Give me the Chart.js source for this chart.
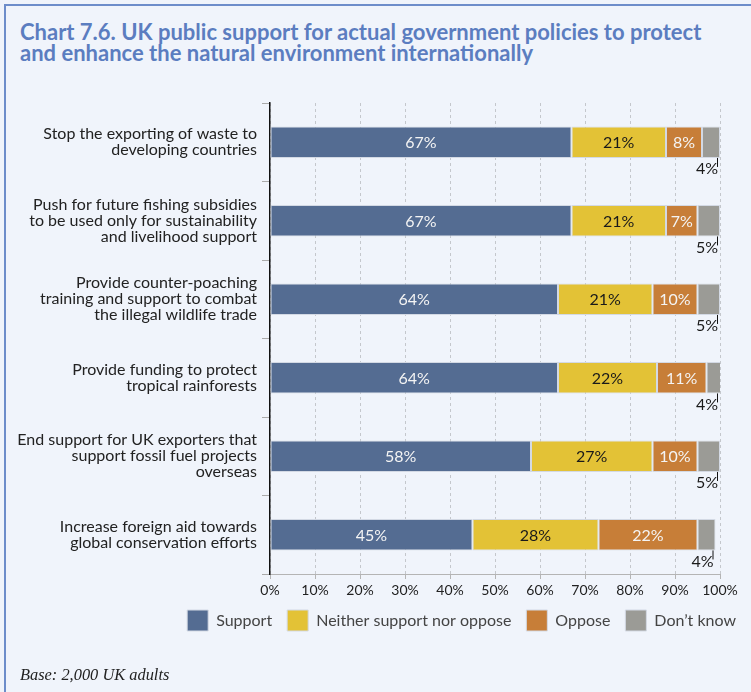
<!DOCTYPE html>
<html>
<head>
<meta charset="utf-8">
<script src="https://cdn.jsdelivr.net/npm/chart.js@4"></script>
<style>
  html, body { margin: 0; padding: 0; background: #f0f4fb; }
  #wrap { position: relative; width: 751px; height: 692px; overflow: hidden; }
  #frame { position: absolute; left: 4px; top: 4px; right: 0; bottom: 0; border-left: 2px solid #6d8dca; border-top: 2px solid #6d8dca; }
  #title { position: absolute; left: 20px; top: 21px; font: bold 22px Lato, sans-serif; line-height: 21px; color: #5b7dc0; }
  #base { position: absolute; left: 20px; top: 665px; font: italic 16.4px "Liberation Serif", serif; color: #222; }
  canvas { position: absolute; left: 0; top: 0; }
</style>
</head>
<body>
<div id="wrap">
  <div id="frame"></div>
  <div id="title">Chart 7.6. UK public support for actual government policies to protect<br>and enhance the natural environment internationally</div>
  <canvas id="myChart" width="751" height="692"></canvas>
  <div id="base">Base: 2,000 UK adults</div>
</div>
<script>
// policy labels, one array of lines per bar
const policies = [
    ['Stop the exporting of waste to', 'developing countries'],
    ['Push for future fishing subsidies', 'to be used only for sustainability', 'and livelihood support'],
    ['Provide counter-poaching', 'training and support to combat', 'the illegal wildlife trade'],
    ['Provide funding to protect', 'tropical rainforests'],
    ['End support for UK exporters that', 'support fossil fuel projects', 'overseas'],
    ['Increase foreign aid towards', 'global conservation efforts']
]
const support = [67, 67, 64, 64, 58, 45]
const neither = [21, 21, 21, 22, 27, 28]
const oppose = [8, 7, 10, 11, 10, 22]
const dontKnow = [4, 5, 5, 4, 5, 4]
const xTicks = [0, 10, 20, 30, 40, 50, 60, 70, 80, 90, 100]

const font = 'Lato'

// percentage labels: inside the first three segments, under the bar for "Don't know"
const barLabels = {
    id: 'barLabels',
    afterDatasetsDraw(chart) {
        const ctx = chart.ctx
        ctx.save()
        ctx.font = '16px ' + font
        chart.data.datasets.forEach((ds, i) => {
            const meta = chart.getDatasetMeta(i)
            meta.data.forEach((bar, j) => {
                const v = ds.data[j]
                if (i < 3) {
                    ctx.fillStyle = i == 1 ? '#1a1a1a' : '#f4f4f4'
                    ctx.textAlign = 'center'
                    ctx.textBaseline = 'middle'
                    const left = Math.min(bar.base, bar.x)
                    const right = Math.min(Math.max(bar.base, bar.x), chart.chartArea.right)
                    ctx.fillText(v + '%', (left + right) / 2, bar.y + 1)
                } else {
                    const bottom = bar.y + bar.height / 2
                    const x = Math.min(bar.x, chart.chartArea.right) - 3
                    ctx.strokeStyle = '#111'
                    ctx.lineWidth = 1
                    ctx.beginPath()
                    ctx.moveTo(x + 0.5, bottom)
                    ctx.lineTo(x + 0.5, bottom + 9)
                    ctx.stroke()
                    ctx.fillStyle = '#1a1a1a'
                    ctx.textAlign = 'right'
                    ctx.textBaseline = 'top'
                    ctx.fillText(v + '%', x + 1, bottom + 3)
                }
            })
        })
        ctx.restore()
    }
}

const data = {
    labels: policies,
    datasets: [
        { label: 'Support', data: support, backgroundColor: '#546c92' },
        { label: 'Neither support nor oppose', data: neither, backgroundColor: '#e3c236' },
        { label: 'Oppose', data: oppose, backgroundColor: '#c77e38' },
        { label: 'Don\u2019t know', data: dontKnow, backgroundColor: '#9b9b96' }
    ]
}
data.datasets.forEach(ds => {
    ds.borderColor = '#d3d9e4'
    ds.borderWidth = 1
    ds.borderSkipped = false
    ds.categoryPercentage = 0.4
    ds.barPercentage = 1
})

const options = {
    responsive: false,
    animation: false,
    indexAxis: 'y',
    layout: { padding: { top: 103, left: 0, right: 0, bottom: 51 } },
    plugins: {
        legend: {
            position: 'bottom',
            align: 'end',
            labels: {
                boxWidth: 21,
                boxHeight: 21,
                padding: 15,
                color: '#444',
                font: { family: font, size: 16 }
            }
        },
        tooltip: { enabled: false }
    },
    scales: {
        x: {
            stacked: true,
            min: 0,
            max: 100,
            afterBuildTicks: (scale) => { scale.ticks = xTicks.map(v => ({ value: v })) },
            afterFit: (scale) => { scale.height = 21; scale.paddingRight = 31 },
            ticks: {
                padding: 3,
                color: '#222',
                font: { family: font, size: 14 },
                maxRotation: 0,
                callback: (v) => v + '%'
            },
            grid: {
                color: '#c4c7cc',
                tickBorderDash: [],
                tickColor: '#b4b4b4',
                tickLength: 5
            },
            border: { display: true, color: '#b4b4b4', dash: [3, 3] }
        },
        y: {
            stacked: true,
            afterFit: (scale) => { scale.width = 270 },
            ticks: {
                padding: 5,
                color: '#222',
                font: { family: font, size: 16, lineHeight: 1.0 }
            },
            grid: {
                drawOnChartArea: false,
                tickColor: '#aaa',
                tickLength: 8
            },
            border: { color: '#111', width: 1.5 }
        }
    }
}

const ctx = document.getElementById('myChart')
const myChart = new Chart(ctx, {
    type: 'bar',
    data: data,
    options: options,
    plugins: [barLabels]
})
</script>
</body>
</html>
